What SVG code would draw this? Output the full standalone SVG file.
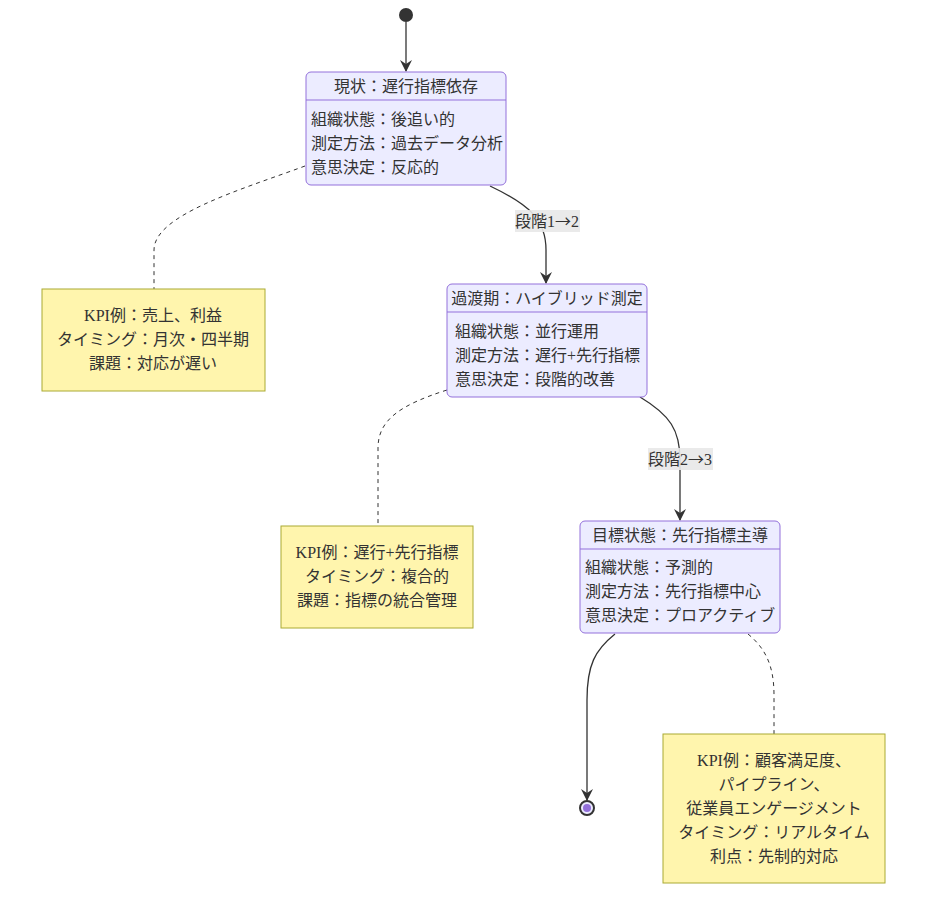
<svg xmlns="http://www.w3.org/2000/svg" width="928" height="917" viewBox="0 0 928 917">
<defs>
<style>
.st{fill:#ECECFF;stroke:#9370DB;stroke-width:1}
.div{stroke:#9370DB;stroke-width:1}
.note{fill:#fff5ad;stroke:#aaaa33;stroke-width:1}
.t{font-family:"Liberation Serif","Noto Sans CJK JP",serif;font-size:16px;fill:#333}
.ar{font-family:"Noto Sans CJK JP",sans-serif}
.c{text-anchor:middle}
.edge{fill:none;stroke:#333;stroke-width:1.3}
.dash{fill:none;stroke:#333;stroke-width:1;stroke-dasharray:4 4}
.lbl{fill:#e8e8e8;opacity:0.9}
</style>
<marker id="arr" viewBox="0 0 12 12" refX="11" refY="6" markerWidth="12" markerHeight="12" markerUnits="userSpaceOnUse" orient="auto">
<path d="M0,0 L12,6 L0,12 L4,6 z" fill="#333"/>
</marker>
</defs>
<rect width="928" height="917" fill="#ffffff"/>
<g id="connectors">
<path class="edge" d="M406,22 L406,71" marker-end="url(#arr)"/>
<path class="edge" d="M490,186 C530,205 546,220 546,250 L546,283" marker-end="url(#arr)"/>
<path class="edge" d="M640,397 C670,415 680,430 680,460 L680,520" marker-end="url(#arr)"/>
<path class="edge" d="M615,634 C595,650 587,665 587,700 L587,800" marker-end="url(#arr)"/>
<path class="dash" d="M305,166 C240,190 154,215 154,250 L154,289"/>
<path class="dash" d="M447,390 C400,405 378,420 378,448 L378,526"/>
<path class="dash" d="M748,634 C765,648 774,665 774,695 L774,734"/>
<rect class="lbl" x="515" y="210" width="65" height="22"/>
<text class="t c" x="547" y="227">段階1<tspan class="ar">→</tspan>2</text>
<rect class="lbl" x="648" y="448" width="65" height="22"/>
<text class="t c" x="680" y="465">段階2<tspan class="ar">→</tspan>3</text>
</g>
<g id="start">
<circle cx="406" cy="15" r="7" fill="#333"/>
</g>
<g id="s1">
<rect class="st" x="306" y="72" width="200" height="113" rx="5"/>
<line class="div" x1="306" y1="100" x2="506" y2="100"/>
<text class="t c" x="406" y="92">現状：遅行指標依存</text>
<text class="t" x="311" y="125">組織状態：後追い的</text>
<text class="t" x="311" y="149">測定方法：過去データ分析</text>
<text class="t" x="311" y="173">意思決定：反応的</text>
</g>
<g id="s2">
<rect class="st" x="447" y="284" width="200" height="113" rx="5"/>
<line class="div" x1="447" y1="312" x2="647" y2="312"/>
<text class="t c" x="547" y="304">過渡期：ハイブリッド測定</text>
<text class="t" x="455" y="337">組織状態：並行運用</text>
<text class="t" x="455" y="361">測定方法：遅行+先行指標</text>
<text class="t" x="455" y="385">意思決定：段階的改善</text>
</g>
<g id="s3">
<rect class="st" x="580" y="521" width="200" height="112" rx="5"/>
<line class="div" x1="580" y1="549" x2="780" y2="549"/>
<text class="t c" x="680" y="541">目標状態：先行指標主導</text>
<text class="t" x="585" y="573">組織状態：予測的</text>
<text class="t" x="585" y="597">測定方法：先行指標中心</text>
<text class="t" x="585" y="621">意思決定：プロアクティブ</text>
</g>
<g id="n1">
<rect class="note" x="42" y="289" width="223" height="102"/>
<text class="t c" x="153" y="321">KPI例：売上、利益</text>
<text class="t c" x="153" y="345">タイミング：月次・四半期</text>
<text class="t c" x="153" y="369">課題：対応が遅い</text>
</g>
<g id="n2">
<rect class="note" x="281" y="526" width="192" height="102"/>
<text class="t c" x="377" y="558">KPI例：遅行+先行指標</text>
<text class="t c" x="377" y="582">タイミング：複合的</text>
<text class="t c" x="377" y="606">課題：指標の統合管理</text>
</g>
<g id="n3">
<rect class="note" x="663" y="734" width="222" height="149"/>
<text class="t c" x="774" y="766">KPI例：顧客満足度、</text>
<text class="t c" x="774" y="790">パイプライン、</text>
<text class="t c" x="774" y="814">従業員エンゲージメント</text>
<text class="t c" x="774" y="838">タイミング：リアルタイム</text>
<text class="t c" x="774" y="862">利点：先制的対応</text>
</g>
<g id="end">
<circle cx="587" cy="808" r="7" fill="#ECECFF" stroke="#333" stroke-width="2"/>
<circle cx="587" cy="808" r="4" fill="#9370DB"/>
</g>
</svg>
